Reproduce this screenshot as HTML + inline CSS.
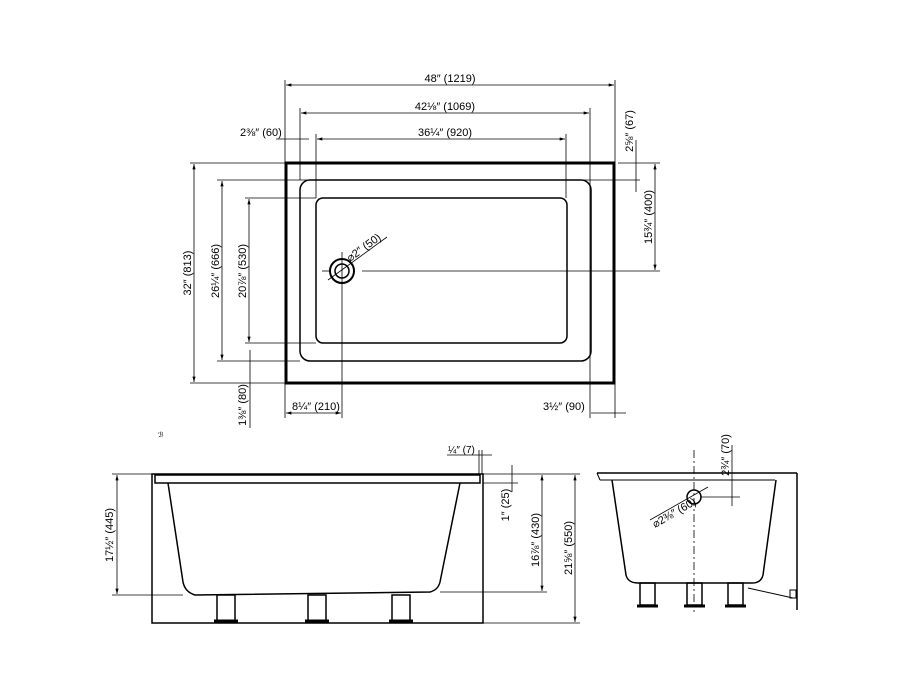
<!DOCTYPE html>
<html><head><meta charset="utf-8"><style>html,body{margin:0;padding:0;background:#fff}svg{display:block}</style></head>
<body>
<svg width="907" height="680" viewBox="0 0 907 680" xmlns="http://www.w3.org/2000/svg" font-family="Liberation Sans, sans-serif" font-size="11" fill="none" stroke="#000">
<defs><marker id="a" viewBox="0 0 10 6" refX="10" refY="3" markerWidth="7" markerHeight="4" orient="auto-start-reverse"><path d="M0,0L10,3L0,6z" fill="#000" stroke="none"/></marker></defs>
<!-- PLAN VIEW -->
<rect x="286" y="163" width="328" height="220" stroke-width="3"/>
<rect x="300" y="180" width="291" height="181" rx="10" stroke-width="1.5"/>
<rect x="316" y="198" width="251" height="145" rx="7" stroke-width="1.5"/>
<circle cx="342" cy="271" r="12" stroke-width="2"/><circle cx="342" cy="271" r="7" stroke-width="1.5"/>
<g stroke-width="0.8">
<line x1="285" y1="80" x2="285" y2="163"/><line x1="615" y1="80" x2="615" y2="418"/>
<line x1="300" y1="108" x2="300" y2="180"/><line x1="590" y1="108" x2="590" y2="418"/>
<line x1="316" y1="134" x2="316" y2="198"/><line x1="566" y1="134" x2="566" y2="198"/>
<line x1="342" y1="252" x2="342" y2="418"/><line x1="285" y1="383" x2="285" y2="418"/>
<line x1="286" y1="85" x2="614" y2="85" marker-start="url(#a)" marker-end="url(#a)"/>
<line x1="301" y1="113" x2="589" y2="113" marker-start="url(#a)" marker-end="url(#a)"/>
<line x1="317" y1="139" x2="565" y2="139" marker-start="url(#a)" marker-end="url(#a)"/>
<line x1="276" y1="139" x2="309" y2="139"/>
<line x1="190" y1="163" x2="285" y2="163"/><line x1="190" y1="383" x2="285" y2="383"/>
<line x1="217" y1="180" x2="640" y2="180"/><line x1="217" y1="361" x2="300" y2="361"/>
<line x1="245" y1="198" x2="316" y2="198"/><line x1="245" y1="343" x2="316" y2="343"/>
<line x1="618" y1="163" x2="660" y2="163"/>
<line x1="322" y1="271" x2="330" y2="271"/><line x1="362" y1="271" x2="660" y2="271"/>
<line x1="194" y1="164" x2="194" y2="382" marker-start="url(#a)" marker-end="url(#a)"/>
<line x1="222" y1="181" x2="222" y2="360" marker-start="url(#a)" marker-end="url(#a)"/>
<line x1="249" y1="199" x2="249" y2="342" marker-start="url(#a)" marker-end="url(#a)"/>
<line x1="250" y1="350" x2="250" y2="428"/>
<line x1="655" y1="164" x2="655" y2="270" marker-start="url(#a)" marker-end="url(#a)"/>
<line x1="636" y1="140" x2="636" y2="192"/>
<line x1="286" y1="413" x2="341" y2="413" marker-start="url(#a)" marker-end="url(#a)"/>
<line x1="591" y1="413" x2="626" y2="413"/>
<line x1="328" y1="280" x2="387" y2="237"/>
</g>
<g fill="#000" stroke="none" font-size="11">
<text x="450" y="82" text-anchor="middle">48″ (1219)</text>
<text x="445" y="110" text-anchor="middle">42⅛″ (1069)</text>
<text x="445" y="136" text-anchor="middle">36¼″ (920)</text>
<text x="240" y="136">2⅜″ (60)</text>
<text x="292" y="410">8¼″ (210)</text>
<text x="543" y="410">3½″ (90)</text>
<text transform="translate(191,273) rotate(-90)" text-anchor="middle">32″ (813)</text>
<text transform="translate(219,271) rotate(-90)" text-anchor="middle">26¼″ (666)</text>
<text transform="translate(246,271) rotate(-90)" text-anchor="middle">20⅞″ (530)</text>
<text transform="translate(246,405) rotate(-90)" text-anchor="middle">1⅜″ (80)</text>
<text transform="translate(633,131) rotate(-90)" text-anchor="middle">2⅝″ (67)</text>
<text transform="translate(652,217) rotate(-90)" text-anchor="middle">15¾″ (400)</text>
<text transform="translate(350,262) rotate(-36)">⌀2″ (50)</text>
</g>
<!-- FRONT VIEW -->
<g stroke-width="1.5">
<rect x="152" y="474" width="331" height="149"/>
<rect x="155" y="475" width="325" height="8"/>
<path d="M168,483 L183,582 Q185,592 195,595 L430,592 Q438,590 440,582 L460,483"/>
<rect x="217" y="595" width="18" height="27"/><rect x="308" y="595" width="18" height="27"/><rect x="392" y="595" width="18" height="27"/>
<line x1="214" y1="621" x2="238" y2="621" stroke-width="3"/><line x1="305" y1="621" x2="329" y2="621" stroke-width="3"/><line x1="389" y1="621" x2="413" y2="621" stroke-width="3"/>
</g>
<g stroke-width="0.8">
<line x1="112" y1="474" x2="152" y2="474"/><line x1="112" y1="595" x2="183" y2="595"/>
<line x1="117" y1="475" x2="117" y2="594" marker-start="url(#a)" marker-end="url(#a)"/>
<line x1="483" y1="474" x2="580" y2="474"/><line x1="483" y1="623" x2="580" y2="623"/>
<line x1="440" y1="592" x2="547" y2="592"/>
<line x1="542" y1="475" x2="542" y2="591" marker-start="url(#a)" marker-end="url(#a)"/>
<line x1="575" y1="475" x2="575" y2="622" marker-start="url(#a)" marker-end="url(#a)"/>
<line x1="512" y1="465" x2="512" y2="492"/><line x1="483" y1="483" x2="518" y2="483"/>
<line x1="479" y1="450" x2="479" y2="474"/><line x1="482" y1="450" x2="482" y2="474"/>
<line x1="447" y1="455" x2="492" y2="455"/>
</g>
<g fill="#000" stroke="none">
<text x="448" y="453" font-size="10">¼″ (7)</text>
<text transform="translate(113,535) rotate(-90)" text-anchor="middle">17½″ (445)</text>
<text transform="translate(509,505) rotate(-90)" text-anchor="middle">1″ (25)</text>
<text transform="translate(539,540) rotate(-90)" text-anchor="middle">16⅞″ (430)</text>
<text transform="translate(572,548) rotate(-90)" text-anchor="middle">21⅝″ (550)</text>
<text x="158" y="437" font-size="7">ℬ</text>
</g>
<!-- SIDE VIEW -->
<g stroke-width="1.5">
<line x1="597" y1="473" x2="797" y2="473"/><line x1="797" y1="473" x2="797" y2="610"/>
<line x1="600" y1="480" x2="775" y2="480" stroke-width="1"/><line x1="597" y1="473" x2="600" y2="480" stroke-width="1"/>
<path d="M612,480 L626,575 Q628,583 638,583 L752,583 Q761,583 763,575 L776,480"/>
<rect x="640" y="583" width="15" height="22"/><rect x="687" y="583" width="15" height="22"/><rect x="728" y="583" width="15" height="22"/>
<line x1="637" y1="606" x2="658" y2="606" stroke-width="3"/><line x1="684" y1="606" x2="705" y2="606" stroke-width="3"/><line x1="725" y1="606" x2="746" y2="606" stroke-width="3"/>
<circle cx="694" cy="497" r="7"/>
<line x1="748" y1="588" x2="793" y2="598" stroke-width="1"/>
<rect x="790" y="590" width="6" height="8" stroke-width="1"/>
</g>
<g stroke-width="0.8">
<line x1="694" y1="450" x2="694" y2="612" stroke-dasharray="8,3,2,3"/>
<line x1="732" y1="445" x2="732" y2="506"/><line x1="700" y1="497" x2="740" y2="497"/>
<line x1="650" y1="520" x2="708" y2="487"/>
</g>
<g fill="#000" stroke="none">
<text transform="translate(729,455) rotate(-90)" text-anchor="middle">2¾″ (70)</text>
<text transform="translate(655,528) rotate(-30)">⌀2⅜″ (60)</text>
</g>
</svg>
</body></html>
